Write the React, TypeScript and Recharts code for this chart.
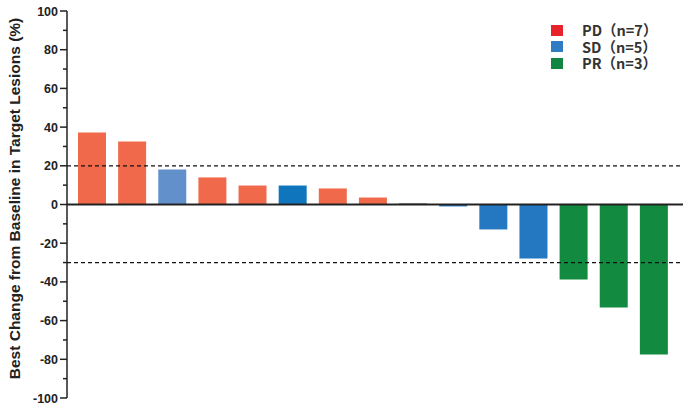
import { BarChart, Bar, XAxis, YAxis, ReferenceLine, Cell } from "recharts";

const patients = ["P1", "P2", "P3", "P4", "P5", "P6", "P7", "P8", "P9", "P10", "P11", "P12", "P13", "P14", "P15"];
const bestChange = [37.2, 32.6, 18.1, 14, 9.8, 9.8, 8.3, 3.6, 0.8, -1, -12.9, -27.9, -38.8, -53.2, -77.5];
const response = ["PD", "PD", "SD", "PD", "PD", "SD", "PD", "PD", "PD", "SD", "SD", "SD", "PR", "PR", "PR"];
const yTicks = [-100, -90, -80, -70, -60, -50, -40, -30, -20, -10, 0, 10, 20, 30, 40, 50, 60, 70, 80, 90, 100];
const legendLabels = ["PD（n=7）", "SD（n=5）", "PR（n=3）"];
const thresholds = [20, -30];

const legendColors = ["#e8222a", "#2f7bc4", "#138542"];
const barColors = [
  "#f0694a", "#f0694a", "#6190cb", "#f0694a", "#f0694a", "#0f75bc", "#f0694a", "#f0694a",
  "#a8a8a8", "#2477c1", "#2477c1", "#2477c1", "#128a3f", "#128a3f", "#128a3f",
];

const data = patients.map((id, i) => ({ id, value: bestChange[i], group: response[i] }));

const font = "'Liberation Sans', Arial, sans-serif";
const legendFont = "'Noto Sans CJK JP', 'Liberation Sans', sans-serif";

function YTick(props: any) {
  const { x, y, payload } = props;
  const v = payload.value;
  const major = v % 20 === 0;
  return (
    <g>
      <line x1={x - (major ? 7 : 4)} x2={x} y1={y} y2={y} stroke="#222" strokeWidth={1.5} />
      {major && (
        <text x={x - 9} y={y} dy={4.5} textAnchor="end" fontSize={12.5} fontWeight="bold" fill="#222" fontFamily={font}>
          {v}
        </text>
      )}
    </g>
  );
}

function AxisTitle(props: any) {
  const vb = props.viewBox;
  const cy = vb.y + vb.height / 2 - 6;
  return (
    <text
      x={20}
      y={cy}
      transform={`rotate(-90 20 ${cy})`}
      textAnchor="middle"
      fontSize={15.5}
      fontWeight="bold"
      fill="#222"
      fontFamily={font}
    >
      Best Change from Baseline in Target Lesions (%)
    </text>
  );
}

function LegendBox() {
  return (
    <div style={{ position: "absolute", left: 551, top: 22 }}>
      {legendLabels.map((label, i) => (
        <div key={label} style={{ display: "flex", alignItems: "center", height: 16.5 }}>
          <span style={{ display: "inline-block", width: 12, height: 11, background: legendColors[i], marginRight: 19 }} />
          <span
            style={{
              fontFamily: legendFont,
              fontSize: 14.5,
              fontWeight: "bold",
              color: "#333",
              lineHeight: "16px",
              whiteSpace: "nowrap",
            }}
          >
            {label}
          </span>
        </div>
      ))}
    </div>
  );
}

export default function App() {
  return (
    <div style={{ position: "absolute", left: 0, top: 0, width: 683, height: 404, background: "#fff" }}>
      <BarChart width={683} height={404} data={data} margin={{ top: 11, right: 0, bottom: 6, left: 0 }}>
        <XAxis dataKey="id" hide padding={{ left: 5, right: 9 }} />
        <YAxis
          type="number"
          domain={[-100, 100]}
          ticks={yTicks}
          interval={0}
          width={67}
          tickSize={0}
          tickMargin={0}
          tick={<YTick />}
          axisLine={{ stroke: "#222", strokeWidth: 1.5 }}
          label={<AxisTitle />}
        />
        {thresholds.map((t) => (
          <ReferenceLine key={t} y={t} stroke="#111" strokeWidth={1.2} strokeDasharray="4 3" />
        ))}
        <Bar dataKey="value" barSize={28} isAnimationActive={false}>
          {data.map((d, i) => (
            <Cell key={d.id} fill={barColors[i]} />
          ))}
        </Bar>
        <ReferenceLine y={0} stroke="#222" strokeWidth={1.8} />
      </BarChart>
      <LegendBox />
    </div>
  );
}
